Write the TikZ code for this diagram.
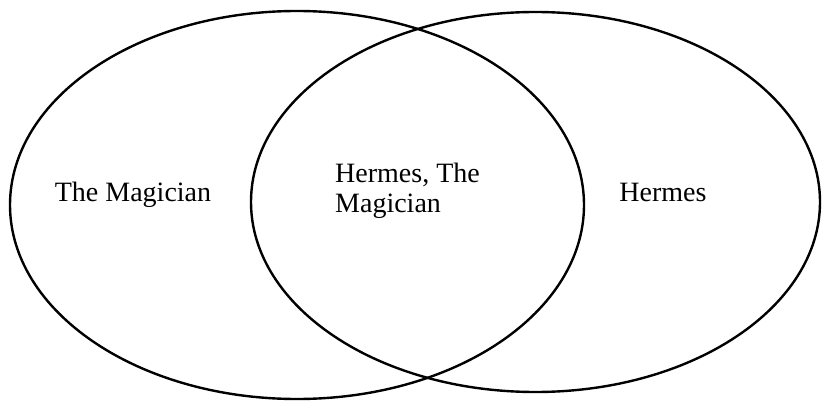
\documentclass[tikz,border=0pt]{standalone}
\usepackage{fontspec}
\setmainfont{Liberation Serif}
\begin{document}
\begin{tikzpicture}[x=1pt,y=-1pt,
  venn/.style={draw=black,line width=2.4pt},
  lbl/.style={font=\fontsize{28}{30}\selectfont,inner sep=0pt,align=left}]
\useasboundingbox (0,0) rectangle (822,401);
\draw[venn] (297,205) ellipse [x radius=287,y radius=194];
\draw[venn] (535.5,202) ellipse [x radius=284.5,y radius=190];
\node[lbl,anchor=base] (left) at (133,201) {The Magician};
\node[lbl,anchor=west] (mid) at (335,191) {Hermes, The\\Magician};
\node[lbl,anchor=base] (right) at (663,201) {Hermes};
\end{tikzpicture}
\end{document}
